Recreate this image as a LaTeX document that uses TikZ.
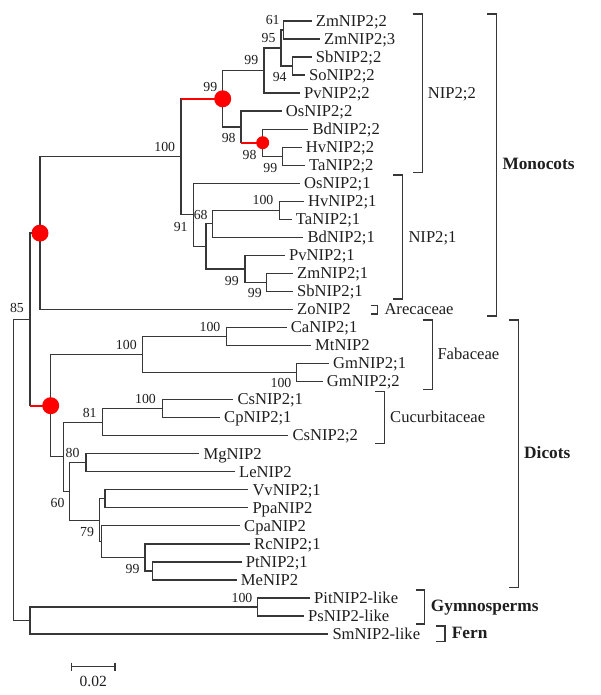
\documentclass[tikz,border=0pt]{standalone}
\usepackage{fontspec}
\setmainfont{Liberation Serif}
\definecolor{ln}{RGB}{55,55,55}
\definecolor{tx}{RGB}{30,30,30}
\definecolor{dotred}{RGB}{255,0,0}
\begin{document}
\begin{tikzpicture}[x=1pt,y=-1pt,
  br/.style={draw=ln,line width=1.3pt},
  redbr/.style={draw=dotred,line width=2pt},
  bigdot/.style={circle,fill=dotred,inner sep=0pt,minimum size=17pt},
  smalldot/.style={circle,fill=dotred,inner sep=0pt,minimum size=13pt},
  leaf/.style={anchor=base west,inner sep=0pt,text=tx,font=\fontsize{16.6}{19}\selectfont},
  bs/.style={anchor=center,inner sep=0pt,text=tx,font=\fontsize{13.8}{16}\selectfont},
  clade/.style={anchor=base west,inner sep=0pt,text=tx,font=\fontsize{16.6}{19}\selectfont},
  cladeb/.style={anchor=base west,inner sep=0pt,text=tx,font=\fontsize{17.3}{20}\selectfont\bfseries},
  brk/.style={draw=ln,line width=1.3pt}]
\useasboundingbox (0,0) rectangle (600,695);

% leaves
\foreach \nm/\xe [count=\i from 0] in {
  ZmNIP2;2/311.7, ZmNIP2;3/320, SbNIP2;2/311.7, SoNIP2;2/305, PvNIP2;2/300,
  OsNIP2;2/281.7, BdNIP2;2/308.3, HvNIP2;2/301.7, TaNIP2;2/305,
  OsNIP2;1/300, HvNIP2;1/304, TaNIP2;1/291.7, BdNIP2;1/303.3, PvNIP2;1/285,
  ZmNIP2;1/293, SbNIP2;1/293, ZoNIP2/293,
  CaNIP2;1/286.7, MtNIP2/311, GmNIP2;1/329, GmNIP2;2/322.7,
  CsNIP2;1/233.3, CpNIP2;1/220, CsNIP2;2/288.3, MgNIP2/199.3, LeNIP2/235,
  VvNIP2;1/248.3, PpaNIP2/248.3, CpaNIP2/240, RcNIP2;1/250, PtNIP2;1/241.7,
  MeNIP2/236.7, PitNIP2-like/310, PsNIP2-like/304, SmNIP2-like/328.3} {
  \coordinate (l\i) at (\xe, {21+18.03*\i});
  \node[leaf] (t\i) at ([xshift=4pt,yshift=-5.3pt]l\i) {\nm};
}

% internal nodes
\coordinate (a61) at (283.3,30.0);
\coordinate (a94) at (292.3,66.1);
\coordinate (a95) at (281,48.0);
\coordinate (a99) at (264,70.6);
\coordinate (aHT2) at (282.7,156.2);
\coordinate (aR98) at (262.7,142.7);
\coordinate (a98) at (241,126.9);
\coordinate (aR99) at (222.7,98.8);
\coordinate (aHT1) at (279.3,210.3);
\coordinate (aB) at (212.3,223.8);
\coordinate (aZS) at (266.7,282.4);
\coordinate (aPv) at (245,268.9);
\coordinate (aA) at (206,246.4);
\coordinate (a91) at (193.3,214.8);
\coordinate (a100) at (181,156.8);
\coordinate (aMono) at (40,233.1);
\coordinate (dCM) at (226.7,336.5);
\coordinate (dGm) at (296.7,372.6);
\coordinate (dFab) at (142.3,354.6);
\coordinate (dCC) at (162.3,408.6);
\coordinate (d81) at (102.7,422.2);
\coordinate (dML) at (86,462.7);
\coordinate (dVP) at (105,498.8);
\coordinate (dPM) at (152.3,570.9);
\coordinate (dRc) at (145,557.4);
\coordinate (dQ) at (101.7,541.6);
\coordinate (dP) at (99.3,520.2);
\coordinate (d60) at (69.3,491.5);
\coordinate (d80) at (63.3,456.8);
\coordinate (dDicot) at (50.7,405.7);
\coordinate (d85) at (30,319.4);
\coordinate (gGym) at (257.7,607.0);
\coordinate (gG2) at (30,620.5);
\coordinate (root) at (13.3,470);

% branches
\draw[br] (root) |- (d85); \draw[br] (root) |- (gG2);
\draw[br] (d85) |- (aMono); \draw[br] (d85) |- (dDicot);
\draw[br] (aMono) |- (a100); \draw[br] (aMono) |- (l16);
\draw[br] (a100) |- (aR99); \draw[br] (a100) |- (a91);
\draw[br] (aR99) |- (a99); \draw[br] (aR99) |- (a98);
\draw[br] (a99) |- (a95); \draw[br] (a99) |- (l4);
\draw[br] (a95) |- (a61); \draw[br] (a95) |- (a94);
\draw[br] (a61) |- (l0); \draw[br] (a61) |- (l1);
\draw[br] (a94) |- (l2); \draw[br] (a94) |- (l3);
\draw[br] (a98) |- (l5); \draw[br] (a98) |- (aR98);
\draw[br] (aR98) |- (l6); \draw[br] (aR98) |- (aHT2);
\draw[br] (aHT2) |- (l7); \draw[br] (aHT2) |- (l8);
\draw[br] (a91) |- (l9); \draw[br] (a91) |- (aA);
\draw[br] (aA) |- (aB); \draw[br] (aA) |- (aPv);
\draw[br] (aB) |- (aHT1); \draw[br] (aB) |- (l12);
\draw[br] (aHT1) |- (l10); \draw[br] (aHT1) |- (l11);
\draw[br] (aPv) |- (l13); \draw[br] (aPv) |- (aZS);
\draw[br] (aZS) |- (l14); \draw[br] (aZS) |- (l15);
\draw[br] (dDicot) |- (dFab); \draw[br] (dDicot) |- (d80);
\draw[br] (dFab) |- (dCM); \draw[br] (dFab) |- (dGm);
\draw[br] (dCM) |- (l17); \draw[br] (dCM) |- (l18);
\draw[br] (dGm) |- (l19); \draw[br] (dGm) |- (l20);
\draw[br] (d80) |- (d81); \draw[br] (d80) |- (d60);
\draw[br] (d81) |- (dCC); \draw[br] (d81) |- (l23);
\draw[br] (dCC) |- (l21); \draw[br] (dCC) |- (l22);
\draw[br] (d60) |- (dML); \draw[br] (d60) |- (dP);
\draw[br] (dML) |- (l24); \draw[br] (dML) |- (l25);
\draw[br] (dP) |- (dVP); \draw[br] (dP) |- (dQ);
\draw[br] (dVP) |- (l26); \draw[br] (dVP) |- (l27);
\draw[br] (dQ) |- (l28); \draw[br] (dQ) |- (dRc);
\draw[br] (dRc) |- (l29); \draw[br] (dRc) |- (dPM);
\draw[br] (dPM) |- (l30); \draw[br] (dPM) |- (l31);
\draw[br] (gG2) |- (gGym); \draw[br] (gG2) |- (l34);
\draw[br] (gGym) |- (l32); \draw[br] (gGym) |- (l33);

% red branches and dots
\draw[redbr] (a100 |- aR99) -- (aR99);
\draw[redbr] (a98 |- aR98) -- (aR98);
\draw[redbr] (d85 |- dDicot) -- (dDicot);
\node[bigdot] (dotR99) at (aR99) {};
\node[smalldot] (dotR98) at (aR98) {};
\node[bigdot] (dotMono) at (aMono) {};
\node[bigdot] (dotDicot) at (dDicot) {};

% bootstrap values
\node[bs] (b01) at (272.7,20) {61};
\node[bs] (b02) at (268.5,37.8) {95};
\node[bs] (b03) at (251.3,60) {99};
\node[bs] (b04) at (279.7,77) {94};
\node[bs] (b05) at (210.3,87) {99};
\node[bs] (b06) at (228.7,138) {98};
\node[bs] (b07) at (249.5,154.7) {98};
\node[bs] (b08) at (270.3,168) {99};
\node[bs] (b09) at (164.7,146.7) {100};
\node[bs] (b10) at (263,200) {100};
\node[bs] (b11) at (200.7,214.7) {68};
\node[bs] (b12) at (180.7,226.7) {91};
\node[bs] (b13) at (231.8,280.5) {99};
\node[bs] (b14) at (254.8,293) {99};
\node[bs] (b15) at (17,308) {85};
\node[bs] (b16) at (126.3,345) {100};
\node[bs] (b17) at (210,326.7) {100};
\node[bs] (b18) at (281,383.3) {100};
\node[bs] (b19) at (145.5,398.7) {100};
\node[bs] (b20) at (89.7,413) {81};
\node[bs] (b21) at (72.5,453) {80};
\node[bs] (b22) at (57.5,503.3) {60};
\node[bs] (b23) at (87,531.7) {79};
\node[bs] (b24) at (132.5,569.3) {99};
\node[bs] (b25) at (242,597.7) {100};

% brackets
\draw[brk] (412.7,14) -- (422.3,14) -- (422.3,172.7) -- (412.7,172.7);
\draw[brk] (392.7,175) -- (402.3,175) -- (402.3,299) -- (392.7,299);
\draw[brk] (370.7,305.7) -- (377.7,305.7) -- (377.7,314) -- (370.7,314);
\draw[brk] (487.3,14) -- (496.7,14) -- (496.7,316) -- (487.3,316);
\draw[brk] (422.7,320) -- (432.3,320) -- (432.3,389.3) -- (422.7,389.3);
\draw[brk] (375,391.7) -- (384.3,391.7) -- (384.3,443.3) -- (375,443.3);
\draw[brk] (509.3,320) -- (518.3,320) -- (518.3,587.3) -- (509.3,587.3);
\draw[brk] (415.7,590) -- (424.3,590) -- (424.3,624) -- (415.7,624);
\draw[brk] (436,626) -- (445,626) -- (445,641.7) -- (436,641.7);

\node[clade] (cN22) at (427.7,98.6) {NIP2;2};
\node[clade] (cN21) at (408.3,242.6) {NIP2;1};
\node[clade] (cAre) at (384.3,314.3) {Arecaceae};
\node[cladeb] (cMono) at (502.3,169.8) {Monocots};
\node[clade] (cFab) at (437.3,359.3) {Fabaceae};
\node[clade] (cCuc) at (390,422.6) {Cucurbitaceae};
\node[cladeb] (cDic) at (524,458.8) {Dicots};
\node[cladeb] (cGym) at (430.7,611.5) {Gymnosperms};
\node[cladeb] (cFern) at (451.7,638.8) {Fern};

% scale bar
\draw[brk] (71.7,666.7) -- (115,666.7);
\draw[brk] (71.7,662.7) -- (71.7,671);
\draw[brk] (115,662.7) -- (115,671);
\node[bs,font=\fontsize{15.5}{18}\selectfont] (scl) at (93.3,681) {0.02};
\end{tikzpicture}
\end{document}
